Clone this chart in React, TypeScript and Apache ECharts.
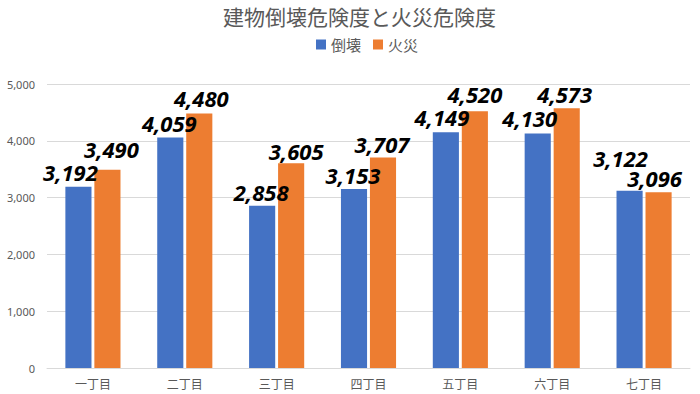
import React, { useEffect, useRef } from "react";
import * as echarts from "echarts";

const categories = ["一丁目", "二丁目", "三丁目", "四丁目", "五丁目", "六丁目", "七丁目"];
const collapseValues = [3192, 4059, 2858, 3153, 4149, 4130, 3122];
const fireValues = [3490, 4480, 3605, 3707, 4520, 4573, 3096];
const seriesNames = ["倒壊", "火災"];
const titleText = "建物倒壊危険度と火災危険度";

// label nudges (layout only), [dx, dy] in pixels per category
const collapseLabelShift = [[-8, -1], [-1, 0], [-1, 0], [-1, 0], [-4, -1], [-8, -1], [-9, -19]];
const fireLabelShift = [[4, -7], [2, -2], [5, 2], [-1, 1], [0, -3], [-2, 0], [-4, 0]];

const fmt = (v: number) => v.toLocaleString("en-US");

export default function App() {
  const ref = useRef<HTMLDivElement>(null);
  useEffect(() => {
    if (!ref.current) return;
    const chart = echarts.init(ref.current, null, { renderer: "svg" });
    const labelStyle = {
      show: true,
      position: "top" as const,
      distance: 6,
      fontSize: 22,
      lineHeight: 16,
      fontWeight: "bold" as const,
      fontStyle: "italic" as const,
      color: "#000000",
      fontFamily: "'Noto Sans', 'Noto Sans CJK JP', sans-serif",
      formatter: (p: any) => fmt(p.value),
    };
    const withShift = (vals: number[], shifts: number[][]) =>
      vals.map((v, i) => ({ value: v, label: { offset: shifts[i] } }));
    chart.setOption({
      animation: false,
      backgroundColor: "#ffffff",
      textStyle: { fontFamily: "'Noto Sans CJK JP', 'Noto Sans', sans-serif" },
      title: {
        text: titleText,
        left: 223,
        top: 5,
        padding: 0,
        textStyle: { fontSize: 21, fontWeight: "normal", color: "#595959" },
      },
      legend: {
        data: seriesNames,
        left: 316,
        top: 37,
        padding: 0,
        icon: "rect",
        itemWidth: 10,
        itemHeight: 10,
        itemGap: 12,
        textStyle: { fontSize: 15, color: "#595959" },
      },
      grid: { left: 47, right: 10, top: 84, bottom: 26, containLabel: false },
      xAxis: {
        type: "category",
        data: categories,
        axisTick: { show: false },
        axisLine: { lineStyle: { color: "#d9d9d9" } },
        axisLabel: { color: "#595959", fontSize: 12, margin: 9 },
      },
      yAxis: {
        type: "value",
        min: 0,
        max: 5000,
        interval: 1000,
        axisLine: { show: false },
        axisTick: { show: false },
        splitLine: { lineStyle: { color: "#d9d9d9" } },
        axisLabel: {
          color: "#595959",
          fontSize: 11,
          margin: 12,
          fontFamily: "'Noto Sans', sans-serif",
          formatter: (v: number) => fmt(v),
        },
      },
      series: [
        {
          name: seriesNames[0],
          type: "bar",
          data: withShift(collapseValues, collapseLabelShift),
          itemStyle: { color: "#4472C4" },
          barGap: "11%",
          barCategoryGap: "40%",
          label: labelStyle,
        },
        {
          name: seriesNames[1],
          type: "bar",
          data: withShift(fireValues, fireLabelShift),
          itemStyle: { color: "#ED7D31" },
          barGap: "11%",
          barCategoryGap: "40%",
          label: labelStyle,
        },
      ],
    });
    return () => chart.dispose();
  }, []);
  return <div ref={ref} style={{ width: 700, height: 394, position: "absolute", left: 0, top: 0 }} />;
}
